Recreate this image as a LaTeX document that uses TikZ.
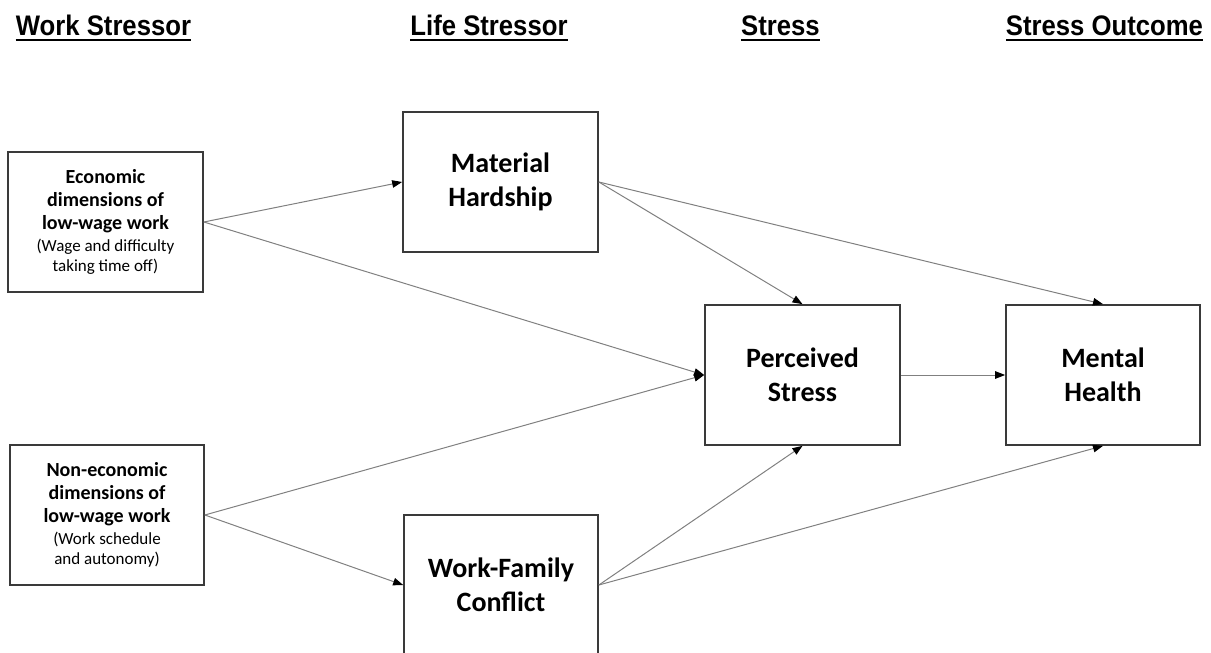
\documentclass[tikz,border=0pt]{standalone}
\usepackage{fontspec}
\setmainfont{Carlito}
\newfontfamily\hdrfont{Liberation Sans}
\usetikzlibrary{arrows.meta}
\definecolor{boxline}{HTML}{3A3A3A}
\definecolor{arrline}{HTML}{808080}
\newcommand{\hdrtext}[1]{\scalebox{1}[1.1]{#1}}
\tikzset{
  hdr/.style={font=\hdrfont\bfseries\fontsize{25.7}{30}\selectfont, inner sep=0pt, anchor=base},
  uline/.style={line width=2.6pt, black},
  bigbox/.style={draw=boxline, line width=1.7pt, minimum width=195pt, minimum height=140pt, align=center,
     inner sep=0pt, font=\bfseries\fontsize{28}{34}\selectfont},
  smallbox/.style={draw=boxline, line width=1.7pt, minimum width=195pt, minimum height=140pt, align=center,
     inner sep=0pt, font=\bfseries\fontsize{20}{23}\selectfont},
  conn/.style={draw=arrline, line width=1pt, -{Triangle[length=10pt,width=7.5pt,color=black]}}
}
\begin{document}
\begin{tikzpicture}[x=1pt,y=-1pt]
\useasboundingbox (0,0) rectangle (1211,653);
\clip (0,0) rectangle (1211,653);
% headers
\node[hdr] (h1) at (103.5,35) {\hdrtext{Work Stressor}};
\node[hdr] (h2) at (489,35) {\hdrtext{Life Stressor}};
\node[hdr] (h3) at (780.5,35) {\hdrtext{Stress}};
\node[hdr] (h4) at (1104.5,35) {\hdrtext{Stress Outcome}};
\foreach \h in {h1,h2,h3,h4}{
  \draw[uline] ([yshift=-5pt]\h.base west) -- ([yshift=-5pt]\h.base east);
}
% boxes
\node[smallbox] (econ) at (105.5,222) {Economic\\dimensions of\\low-wage work\\[-1pt]
  {\mdseries\fontsize{17}{19.5}\selectfont (Wage and difficulty}\\[-3pt]
  {\mdseries\fontsize{17}{19.5}\selectfont taking time off)}};
\node[smallbox, minimum width=194pt] (non) at (107,515) {Non-economic\\dimensions of\\low-wage work\\[-1pt]
  {\mdseries\fontsize{17}{19.5}\selectfont (Work schedule}\\[-3pt]
  {\mdseries\fontsize{17}{19.5}\selectfont and autonomy)}};
\node[bigbox] (mat) at (500.5,182) {Material\\Hardship};
\node[bigbox, minimum width=194pt] (wf) at (501,585) {Work-Family\\Conflict};
\node[bigbox] (per) at (802.5,375) {Perceived\\Stress};
\node[bigbox, minimum width=194pt] (men) at (1103,375) {Mental\\Health};
% connectors
\draw[conn] (econ.east) -- (mat.west);
\draw[conn] (econ.east) -- (per.west);
\draw[conn] (non.east) -- (per.west);
\draw[conn] (non.east) -- (wf.west);
\draw[conn] (mat.east) -- (per.north);
\draw[conn] (mat.east) -- (men.north);
\draw[conn] (per.east) -- (men.west);
\draw[conn] (wf.east) -- (per.south);
\draw[conn] (wf.east) -- (men.south);
\end{tikzpicture}
\end{document}
